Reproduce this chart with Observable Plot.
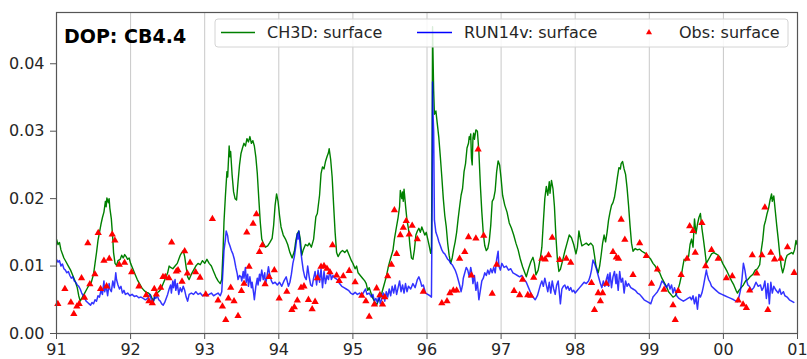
<!DOCTYPE html>
<html>
<head>
<meta charset="utf-8">
<script src="https://cdn.jsdelivr.net/npm/d3@7"></script>
<script src="https://cdn.jsdelivr.net/npm/@observablehq/plot@0.6"></script>
<style>
  html, body { margin: 0; padding: 0; background: #fff; }
  #chart svg { display: block; }
</style>
</head>
<body>
<div id="chart"></div>
<script>
// Station label and legend entries
const stationTitle = "DOP: CB4.4";
const seriesNames = ["CH3D: surface", "RUN14v: surface", "Obs: surface"];

// Year ticks and their two-digit labels
const yearTicks = [1991, 1992, 1993, 1994, 1995, 1996, 1997, 1998, 1999, 2000, 2001];
const yearLabels = ["91", "92", "93", "94", "95", "96", "97", "98", "99", "00", "01"];
const valueTicks = [0, 0.01, 0.02, 0.03, 0.04];

// CH3D model, surface DOP [year, value]
const ch3d = [
  [1991.00,.0140],[1991.02,.0132],[1991.04,.0135],[1991.06,.0124],[1991.08,.0118],[1991.10,.0112],
  [1991.13,.0106],[1991.16,.0100],[1991.19,.0094],[1991.22,.0086],[1991.25,.0078],[1991.28,.0068],
  [1991.30,.0056],[1991.32,.0048],[1991.35,.0054],[1991.38,.0060],[1991.41,.0066],[1991.44,.0072],
  [1991.47,.0076],[1991.50,.0088],[1991.52,.0104],[1991.54,.0120],[1991.56,.0138],[1991.58,.0150],
  [1991.60,.0162],[1991.62,.0172],[1991.64,.0180],[1991.66,.0196],[1991.67,.0188],[1991.68,.0201],
  [1991.70,.0194],[1991.71,.0200],[1991.72,.0186],[1991.74,.0170],[1991.76,.0140],[1991.77,.0120],
  [1991.79,.0104],[1991.81,.0101],[1991.83,.0108],[1991.86,.0110],[1991.88,.0116],[1991.90,.0112],
  [1991.92,.0117],[1991.94,.0114],[1991.96,.0110],[1991.98,.0112],[1992.00,.0104],[1992.03,.0096],
  [1992.06,.0088],[1992.09,.0080],[1992.12,.0074],[1992.15,.0068],[1992.18,.0064],[1992.21,.0061],
  [1992.24,.0060],[1992.27,.0057],[1992.29,.0052],[1992.31,.0048],[1992.33,.0056],[1992.35,.0060],
  [1992.38,.0062],[1992.41,.0066],[1992.44,.0074],[1992.47,.0082],[1992.50,.0090],[1992.52,.0100],
  [1992.54,.0098],[1992.57,.0096],[1992.60,.0100],[1992.63,.0104],[1992.65,.0110],[1992.67,.0116],
  [1992.69,.0120],[1992.71,.0123],[1992.73,.0114],[1992.75,.0098],[1992.77,.0084],[1992.79,.0080],
  [1992.82,.0088],[1992.85,.0094],[1992.88,.0100],[1992.91,.0104],[1992.94,.0102],[1992.97,.0108],
  [1993.00,.0104],[1993.03,.0110],[1993.06,.0104],[1993.09,.0100],[1993.12,.0092],[1993.15,.0084],
  [1993.18,.0078],[1993.21,.0074],[1993.23,.0080],[1993.25,.0130],[1993.26,.0165],[1993.28,.0205],
  [1993.30,.0240],[1993.31,.0232],[1993.33,.0278],[1993.34,.0262],[1993.35,.0270],[1993.37,.0235],
  [1993.39,.0210],[1993.41,.0200],[1993.43,.0198],[1993.45,.0225],[1993.47,.0250],[1993.49,.0267],
  [1993.51,.0275],[1993.53,.0282],[1993.55,.0278],[1993.57,.0289],[1993.59,.0284],[1993.61,.0292],
  [1993.63,.0282],[1993.65,.0286],[1993.67,.0278],[1993.69,.0262],[1993.71,.0237],[1993.73,.0200],
  [1993.75,.0165],[1993.77,.0140],[1993.79,.0134],[1993.82,.0128],[1993.85,.0130],[1993.88,.0135],
  [1993.91,.0141],[1993.93,.0160],[1993.95,.0190],[1993.97,.0207],[1993.99,.0196],[1994.01,.0175],
  [1994.03,.0158],[1994.06,.0146],[1994.09,.0140],[1994.12,.0132],[1994.15,.0120],[1994.18,.0112],
  [1994.21,.0122],[1994.23,.0138],[1994.25,.0148],[1994.27,.0152],[1994.29,.0140],[1994.31,.0116],
  [1994.33,.0124],[1994.36,.0132],[1994.39,.0130],[1994.41,.0134],[1994.44,.0128],[1994.47,.0140],
  [1994.50,.0173],[1994.52,.0178],[1994.55,.0205],[1994.57,.0237],[1994.59,.0247],[1994.61,.0244],
  [1994.63,.0255],[1994.65,.0262],[1994.67,.0268],[1994.68,.0274],[1994.70,.0258],[1994.72,.0232],
  [1994.74,.0190],[1994.76,.0150],[1994.78,.0120],[1994.80,.0114],[1994.83,.0120],[1994.86,.0123],
  [1994.89,.0120],[1994.92,.0124],[1994.95,.0116],[1994.98,.0108],[1995.00,.0104],[1995.03,.0096],
  [1995.05,.0100],[1995.07,.0090],[1995.10,.0086],[1995.13,.0082],[1995.16,.0078],[1995.18,.0074],
  [1995.20,.0064],[1995.22,.0068],[1995.25,.0058],[1995.27,.0052],[1995.30,.0046],[1995.32,.0042],
  [1995.34,.0048],[1995.36,.0052],[1995.39,.0060],[1995.42,.0072],[1995.45,.0084],[1995.48,.0100],
  [1995.51,.0112],[1995.54,.0123],[1995.56,.0140],[1995.58,.0153],[1995.61,.0172],[1995.63,.0188],
  [1995.64,.0212],[1995.66,.0200],[1995.67,.0210],[1995.68,.0196],[1995.69,.0214],[1995.71,.0190],
  [1995.73,.0168],[1995.75,.0155],[1995.77,.0130],[1995.79,.0112],[1995.81,.0110],[1995.83,.0124],
  [1995.85,.0146],[1995.87,.0152],[1995.89,.0156],[1995.91,.0150],[1995.93,.0158],[1995.95,.0152],
  [1995.97,.0146],[1995.99,.0150],[1996.01,.0140],[1996.03,.0130],[1996.05,.0119],[1996.06,.0125],
  [1996.07,.0300],[1996.075,.0455],[1996.08,.0420],[1996.09,.0360],[1996.10,.0325],[1996.12,.0330],
  [1996.14,.0310],[1996.16,.0290],[1996.18,.0262],[1996.20,.0232],[1996.22,.0200],[1996.24,.0175],
  [1996.26,.0158],[1996.28,.0133],[1996.30,.0115],[1996.32,.0104],[1996.34,.0112],[1996.36,.0125],
  [1996.38,.0136],[1996.40,.0150],[1996.42,.0170],[1996.44,.0188],[1996.46,.0205],[1996.48,.0215],
  [1996.50,.0240],[1996.52,.0252],[1996.54,.0275],[1996.56,.0282],[1996.57,.0292],[1996.58,.0288],
  [1996.59,.0296],[1996.60,.0260],[1996.61,.0250],[1996.62,.0290],[1996.63,.0297],[1996.64,.0288],
  [1996.66,.0302],[1996.68,.0300],[1996.70,.0270],[1996.72,.0220],[1996.74,.0180],[1996.76,.0148],
  [1996.78,.0130],[1996.80,.0123],[1996.82,.0126],[1996.84,.0137],[1996.86,.0160],[1996.88,.0196],
  [1996.90,.0200],[1996.92,.0212],[1996.94,.0240],[1996.96,.0256],[1996.98,.0250],[1997.00,.0230],
  [1997.02,.0205],[1997.05,.0190],[1997.08,.0180],[1997.11,.0164],[1997.14,.0156],[1997.17,.0146],
  [1997.20,.0134],[1997.23,.0124],[1997.26,.0110],[1997.29,.0099],[1997.32,.0090],[1997.34,.0084],
  [1997.37,.0096],[1997.40,.0106],[1997.43,.0113],[1997.45,.0104],[1997.47,.0087],[1997.50,.0094],
  [1997.53,.0112],[1997.55,.0128],[1997.57,.0165],[1997.59,.0200],[1997.61,.0218],[1997.63,.0205],
  [1997.65,.0225],[1997.66,.0208],[1997.68,.0227],[1997.70,.0215],[1997.72,.0188],[1997.74,.0143],
  [1997.76,.0110],[1997.78,.0092],[1997.80,.0095],[1997.83,.0108],[1997.86,.0122],[1997.89,.0134],
  [1997.92,.0146],[1997.95,.0142],[1997.98,.0132],[1998.01,.0118],[1998.03,.0128],[1998.05,.0152],
  [1998.07,.0140],[1998.09,.0130],[1998.12,.0132],[1998.15,.0134],[1998.18,.0131],[1998.21,.0134],
  [1998.24,.0130],[1998.26,.0116],[1998.28,.0100],[1998.31,.0090],[1998.33,.0100],[1998.35,.0116],
  [1998.37,.0134],[1998.39,.0146],[1998.41,.0136],[1998.43,.0150],[1998.45,.0168],[1998.47,.0180],
  [1998.49,.0190],[1998.51,.0194],[1998.53,.0202],[1998.55,.0216],[1998.57,.0232],[1998.59,.0246],
  [1998.61,.0244],[1998.62,.0252],[1998.64,.0255],[1998.66,.0244],[1998.68,.0236],[1998.70,.0216],
  [1998.72,.0190],[1998.74,.0160],[1998.76,.0134],[1998.78,.0122],[1998.81,.0126],[1998.84,.0124],
  [1998.87,.0125],[1998.90,.0122],[1998.93,.0120],[1998.96,.0118],[1998.99,.0114],[1999.02,.0110],
  [1999.05,.0104],[1999.08,.0100],[1999.11,.0094],[1999.14,.0090],[1999.17,.0082],[1999.20,.0076],
  [1999.23,.0070],[1999.26,.0062],[1999.29,.0058],[1999.32,.0054],[1999.35,.0056],[1999.38,.0062],
  [1999.41,.0074],[1999.43,.0084],[1999.45,.0098],[1999.47,.0110],[1999.49,.0108],[1999.51,.0112],
  [1999.53,.0114],[1999.55,.0132],[1999.57,.0140],[1999.59,.0128],[1999.61,.0170],[1999.63,.0148],
  [1999.65,.0162],[1999.67,.0172],[1999.69,.0178],[1999.71,.0156],[1999.73,.0140],[1999.75,.0123],
  [1999.77,.0104],[1999.79,.0108],[1999.81,.0112],[1999.84,.0118],[1999.87,.0120],[1999.90,.0118],
  [1999.93,.0116],[1999.96,.0112],[1999.99,.0104],[2000.02,.0098],[2000.05,.0092],[2000.08,.0085],
  [2000.11,.0078],[2000.14,.0072],[2000.17,.0064],[2000.19,.0060],[2000.21,.0064],[2000.24,.0068],
  [2000.27,.0072],[2000.30,.0078],[2000.33,.0080],[2000.36,.0084],[2000.40,.0088],[2000.43,.0094],
  [2000.46,.0096],[2000.49,.0102],[2000.51,.0123],[2000.53,.0138],[2000.55,.0160],[2000.57,.0168],
  [2000.59,.0178],[2000.61,.0186],[2000.63,.0198],[2000.65,.0207],[2000.66,.0196],[2000.68,.0204],
  [2000.70,.0182],[2000.72,.0160],[2000.74,.0140],[2000.76,.0118],[2000.78,.0100],[2000.80,.0090],
  [2000.82,.0098],[2000.84,.0110],[2000.86,.0116],[2000.89,.0118],[2000.92,.0120],[2000.94,.0118],
  [2000.96,.0124],[2000.98,.0138],[2000.995,.0132]
];

// RUN14v model, surface DOP [year, value]
const run14v = [
  [1991.00,.0110],[1991.02,.0106],[1991.04,.0108],[1991.06,.0100],[1991.08,.0103],[1991.10,.0096],
  [1991.12,.0094],[1991.14,.0090],[1991.16,.0092],[1991.18,.0086],[1991.20,.0082],[1991.22,.0084],
  [1991.24,.0078],[1991.26,.0076],[1991.28,.0072],[1991.30,.0070],[1991.32,.0066],[1991.34,.0060],
  [1991.36,.0056],[1991.38,.0052],[1991.40,.0048],[1991.42,.0046],[1991.44,.0044],[1991.46,.0042],
  [1991.48,.0046],[1991.50,.0044],[1991.52,.0050],[1991.54,.0048],[1991.56,.0056],[1991.58,.0054],
  [1991.60,.0064],[1991.62,.0058],[1991.64,.0078],[1991.65,.0062],[1991.67,.0070],[1991.69,.0056],
  [1991.71,.0074],[1991.72,.0066],[1991.74,.0062],[1991.76,.0078],[1991.78,.0068],[1991.80,.0090],
  [1991.81,.0080],[1991.83,.0072],[1991.85,.0066],[1991.87,.0070],[1991.89,.0060],[1991.91,.0064],
  [1991.93,.0058],[1991.96,.0060],[1991.99,.0056],[1992.02,.0058],[1992.05,.0055],[1992.08,.0056],
  [1992.11,.0053],[1992.14,.0054],[1992.17,.0052],[1992.20,.0050],[1992.23,.0052],[1992.26,.0058],
  [1992.28,.0050],[1992.30,.0044],[1992.32,.0054],[1992.34,.0052],[1992.36,.0056],[1992.38,.0050],
  [1992.40,.0048],[1992.42,.0044],[1992.44,.0042],[1992.46,.0046],[1992.48,.0052],[1992.50,.0058],
  [1992.52,.0066],[1992.54,.0072],[1992.55,.0060],[1992.57,.0078],[1992.58,.0068],[1992.60,.0080],
  [1992.61,.0064],[1992.63,.0074],[1992.65,.0058],[1992.67,.0068],[1992.69,.0062],[1992.71,.0070],
  [1992.73,.0064],[1992.75,.0054],[1992.77,.0048],[1992.79,.0058],[1992.82,.0060],[1992.85,.0058],
  [1992.88,.0062],[1992.91,.0058],[1992.94,.0060],[1992.97,.0056],[1993.00,.0058],[1993.03,.0056],
  [1993.06,.0058],[1993.09,.0060],[1993.12,.0056],[1993.15,.0058],[1993.18,.0060],[1993.21,.0056],
  [1993.23,.0062],[1993.25,.0100],[1993.26,.0123],[1993.28,.0140],[1993.29,.0152],[1993.31,.0145],
  [1993.32,.0136],[1993.34,.0130],[1993.36,.0123],[1993.38,.0118],[1993.40,.0110],[1993.42,.0098],
  [1993.44,.0088],[1993.45,.0080],[1993.47,.0086],[1993.49,.0084],[1993.50,.0078],[1993.52,.0092],
  [1993.53,.0082],[1993.55,.0098],[1993.56,.0076],[1993.58,.0088],[1993.59,.0070],[1993.61,.0084],
  [1993.63,.0068],[1993.64,.0076],[1993.66,.0060],[1993.67,.0050],[1993.69,.0070],[1993.71,.0082],
  [1993.72,.0072],[1993.74,.0088],[1993.75,.0078],[1993.77,.0094],[1993.79,.0080],[1993.81,.0090],
  [1993.82,.0072],[1993.84,.0084],[1993.86,.0099],[1993.88,.0086],[1993.90,.0078],[1993.92,.0074],
  [1993.95,.0076],[1993.98,.0072],[1994.01,.0076],[1994.04,.0070],[1994.07,.0078],[1994.10,.0084],
  [1994.13,.0070],[1994.15,.0076],[1994.17,.0088],[1994.19,.0104],[1994.21,.0114],[1994.23,.0130],
  [1994.25,.0148],[1994.26,.0140],[1994.27,.0152],[1994.29,.0130],[1994.31,.0110],[1994.33,.0094],
  [1994.35,.0084],[1994.37,.0080],[1994.39,.0100],[1994.41,.0084],[1994.43,.0072],[1994.45,.0070],
  [1994.47,.0082],[1994.49,.0092],[1994.51,.0072],[1994.53,.0094],[1994.55,.0076],[1994.57,.0096],
  [1994.59,.0068],[1994.61,.0092],[1994.63,.0074],[1994.65,.0086],[1994.67,.0080],[1994.69,.0094],
  [1994.71,.0080],[1994.73,.0086],[1994.76,.0082],[1994.79,.0080],[1994.82,.0074],[1994.85,.0070],
  [1994.88,.0068],[1994.91,.0066],[1994.94,.0064],[1994.97,.0060],[1995.00,.0058],[1995.03,.0061],
  [1995.06,.0058],[1995.09,.0060],[1995.12,.0056],[1995.15,.0062],[1995.17,.0066],[1995.19,.0058],
  [1995.22,.0060],[1995.25,.0054],[1995.27,.0058],[1995.29,.0048],[1995.31,.0052],[1995.33,.0046],
  [1995.35,.0056],[1995.37,.0044],[1995.39,.0052],[1995.41,.0060],[1995.43,.0048],[1995.45,.0062],
  [1995.47,.0054],[1995.49,.0066],[1995.51,.0056],[1995.53,.0070],[1995.55,.0060],[1995.57,.0072],
  [1995.59,.0058],[1995.61,.0068],[1995.63,.0078],[1995.65,.0062],[1995.67,.0072],[1995.69,.0060],
  [1995.71,.0074],[1995.73,.0062],[1995.75,.0070],[1995.78,.0066],[1995.81,.0074],[1995.84,.0068],
  [1995.87,.0080],[1995.89,.0084],[1995.91,.0078],[1995.93,.0070],[1995.95,.0072],[1995.98,.0060],
  [1996.01,.0058],[1996.04,.0056],[1996.06,.0054],[1996.07,.0200],[1996.075,.0373],[1996.08,.0330],
  [1996.09,.0300],[1996.10,.0168],[1996.12,.0150],[1996.14,.0144],[1996.16,.0136],[1996.18,.0130],
  [1996.20,.0124],[1996.22,.0120],[1996.24,.0118],[1996.26,.0114],[1996.28,.0110],[1996.30,.0108],
  [1996.32,.0104],[1996.34,.0102],[1996.36,.0098],[1996.38,.0094],[1996.40,.0088],[1996.42,.0080],
  [1996.44,.0072],[1996.46,.0062],[1996.48,.0072],[1996.49,.0082],[1996.51,.0090],[1996.53,.0098],
  [1996.55,.0094],[1996.57,.0084],[1996.59,.0098],[1996.61,.0086],[1996.62,.0074],[1996.64,.0086],
  [1996.66,.0064],[1996.68,.0076],[1996.70,.0050],[1996.72,.0064],[1996.74,.0078],[1996.76,.0082],
  [1996.78,.0090],[1996.80,.0086],[1996.82,.0094],[1996.84,.0088],[1996.86,.0096],[1996.88,.0090],
  [1996.90,.0098],[1996.92,.0090],[1996.94,.0110],[1996.96,.0122],[1996.97,.0100],[1996.99,.0094],
  [1997.01,.0104],[1997.04,.0098],[1997.07,.0100],[1997.10,.0094],[1997.13,.0096],[1997.16,.0090],
  [1997.19,.0088],[1997.22,.0086],[1997.25,.0084],[1997.28,.0086],[1997.31,.0080],[1997.34,.0076],
  [1997.37,.0068],[1997.40,.0060],[1997.43,.0054],[1997.46,.0050],[1997.49,.0056],[1997.51,.0064],
  [1997.53,.0072],[1997.55,.0078],[1997.57,.0070],[1997.59,.0082],[1997.61,.0072],[1997.63,.0062],
  [1997.65,.0076],[1997.67,.0060],[1997.69,.0078],[1997.71,.0066],[1997.73,.0058],[1997.75,.0072],
  [1997.77,.0078],[1997.79,.0056],[1997.80,.0044],[1997.82,.0066],[1997.84,.0070],[1997.86,.0072],
  [1997.88,.0066],[1997.90,.0070],[1997.92,.0064],[1997.94,.0068],[1997.96,.0062],[1997.98,.0064],
  [1998.00,.0060],[1998.03,.0064],[1998.06,.0068],[1998.09,.0072],[1998.12,.0076],[1998.15,.0074],
  [1998.18,.0078],[1998.20,.0084],[1998.22,.0094],[1998.24,.0109],[1998.26,.0104],[1998.28,.0098],
  [1998.30,.0090],[1998.32,.0082],[1998.34,.0074],[1998.36,.0068],[1998.38,.0078],[1998.40,.0070],
  [1998.42,.0080],[1998.44,.0088],[1998.45,.0070],[1998.47,.0090],[1998.49,.0068],[1998.51,.0084],
  [1998.53,.0092],[1998.55,.0074],[1998.56,.0088],[1998.58,.0064],[1998.60,.0092],[1998.62,.0076],
  [1998.64,.0082],[1998.66,.0060],[1998.68,.0078],[1998.70,.0070],[1998.72,.0074],[1998.75,.0068],
  [1998.78,.0066],[1998.81,.0064],[1998.84,.0060],[1998.87,.0058],[1998.90,.0054],[1998.93,.0050],
  [1998.96,.0048],[1998.99,.0046],[1999.02,.0044],[1999.05,.0054],[1999.08,.0058],[1999.11,.0062],
  [1999.14,.0068],[1999.17,.0078],[1999.20,.0074],[1999.23,.0068],[1999.26,.0074],[1999.28,.0066],
  [1999.30,.0072],[1999.32,.0060],[1999.34,.0068],[1999.37,.0056],[1999.40,.0052],[1999.43,.0050],
  [1999.46,.0048],[1999.49,.0050],[1999.52,.0052],[1999.55,.0054],[1999.57,.0050],[1999.59,.0056],
  [1999.61,.0044],[1999.63,.0054],[1999.65,.0036],[1999.67,.0058],[1999.69,.0054],[1999.71,.0060],
  [1999.73,.0070],[1999.75,.0082],[1999.77,.0094],[1999.78,.0088],[1999.80,.0080],[1999.82,.0076],
  [1999.84,.0070],[1999.86,.0068],[1999.90,.0064],[1999.94,.0060],[1999.98,.0058],[2000.02,.0056],
  [2000.06,.0054],[2000.10,.0052],[2000.14,.0050],[2000.17,.0048],[2000.19,.0047],[2000.21,.0054],
  [2000.23,.0064],[2000.25,.0080],[2000.27,.0104],[2000.29,.0094],[2000.31,.0080],[2000.33,.0072],
  [2000.35,.0070],[2000.38,.0064],[2000.41,.0068],[2000.44,.0076],[2000.47,.0070],[2000.50,.0072],
  [2000.52,.0064],[2000.54,.0068],[2000.56,.0078],[2000.58,.0052],[2000.60,.0074],[2000.62,.0044],
  [2000.64,.0076],[2000.66,.0060],[2000.68,.0070],[2000.71,.0064],[2000.74,.0060],[2000.76,.0066],
  [2000.78,.0058],[2000.81,.0062],[2000.83,.0056],[2000.86,.0054],[2000.89,.0050],[2000.92,.0048],
  [2000.95,.0046]
];

// Observed surface DOP samples [year, value]
const observed = [
  [1991.018,.0044],[1991.113,.0066],[1991.194,.0046],[1991.234,.0029],[1991.275,.0040],[1991.306,.0044],
  [1991.338,.0082],[1991.378,.0053],[1991.423,.0134],[1991.450,.0073],[1991.518,.0088],[1991.563,.0149],
  [1991.595,.0066],[1991.640,.0108],[1991.676,.0070],[1991.712,.0111],[1991.752,.0147],[1991.788,.0138],
  [1991.847,.0102],[1991.919,.0105],[1992.014,.0091],[1992.112,.0070],[1992.212,.0057],[1992.247,.0048],
  [1992.293,.0045],[1992.320,.0066],[1992.347,.0058],[1992.405,.0068],[1992.437,.0084],[1992.468,.0084],
  [1992.518,.0082],[1992.554,.0135],[1992.617,.0092],[1992.640,.0094],[1992.694,.0077],[1992.730,.0122],
  [1992.766,.0089],[1992.802,.0105],[1992.878,.0091],[1992.937,.0083],[1993.014,.0058],[1993.104,.0170],
  [1993.180,.0049],[1993.239,.0040],[1993.284,.0020],[1993.320,.0052],[1993.351,.0068],[1993.396,.0048],
  [1993.450,.0026],[1993.496,.0063],[1993.531,.0074],[1993.568,.0150],[1993.599,.0099],[1993.653,.0163],
  [1993.698,.0177],[1993.739,.0121],[1993.779,.0131],[1993.815,.0073],[1993.869,.0084],[1993.940,.0094],
  [1994.005,.0052],[1994.108,.0062],[1994.176,.0035],[1994.210,.0039],[1994.250,.0049],[1994.300,.0068],
  [1994.340,.0070],[1994.400,.0050],[1994.450,.0036],[1994.490,.0047],[1994.520,.0082],[1994.570,.0099],
  [1994.610,.0100],[1994.650,.0096],[1994.690,.0091],[1994.725,.0131],[1994.780,.0086],[1994.815,.0078],
  [1994.870,.0085],[1994.950,.0093],[1995.030,.0076],[1995.120,.0056],[1995.175,.0048],[1995.220,.0025],
  [1995.290,.0043],[1995.320,.0067],[1995.365,.0057],[1995.400,.0043],[1995.430,.0054],[1995.470,.0085],
  [1995.520,.0102],[1995.560,.0183],[1995.590,.0118],[1995.640,.0146],[1995.680,.0157],[1995.720,.0167],
  [1995.760,.0147],[1995.800,.0160],[1995.870,.0140],[1995.950,.0062],[1996.200,.0045],[1996.270,.0048],
  [1996.310,.0060],[1996.355,.0064],[1996.400,.0064],[1996.440,.0111],[1996.510,.0121],[1996.560,.0143],
  [1996.600,.0086],[1996.660,.0141],[1996.690,.0273],[1996.765,.0145],[1996.880,.0059],[1996.940,.0102],
  [1997.175,.0063],[1997.250,.0057],[1997.290,.0080],[1997.360,.0057],[1997.400,.0056],[1997.440,.0083],
  [1997.550,.0111],[1997.595,.0110],[1997.640,.0116],[1997.690,.0142],[1997.790,.0109],[1997.880,.0111],
  [1997.940,.0105],[1998.220,.0075],[1998.260,.0035],[1998.310,.0060],[1998.340,.0048],[1998.370,.0060],
  [1998.420,.0074],[1998.510,.0121],[1998.555,.0113],[1998.585,.0111],[1998.620,.0169],[1998.670,.0139],
  [1998.780,.0087],[1998.870,.0134],[1998.960,.0115],[1999.030,.0074],[1999.110,.0095],[1999.200,.0065],
  [1999.320,.0042],[1999.350,.0020],[1999.390,.0063],[1999.430,.0087],[1999.510,.0111],[1999.545,.0159],
  [1999.590,.0152],[1999.620,.0120],[1999.710,.0164],[1999.760,.0100],[1999.840,.0124],[1999.930,.0111],
  [2000.040,.0082],[2000.120,.0085],[2000.200,.0049],[2000.265,.0043],[2000.310,.0038],[2000.355,.0064],
  [2000.390,.0116],[2000.450,.0089],[2000.520,.0116],[2000.560,.0187],[2000.600,.0035],[2000.640,.0120],
  [2000.690,.0110],[2000.775,.0111],[2000.865,.0128],[2000.955,.0090]
];

const seriesColors = ["green", "blue", "red"];

const chart = Plot.plot({
  width: 807,
  height: 359,
  marginLeft: 56,
  marginRight: 10,
  marginTop: 12,
  marginBottom: 26,
  style: {fontFamily: "DejaVu Sans", fontSize: "16px", color: "#262626", background: "#fff"},
  x: {type: "linear", domain: [1991, 2001]},
  y: {domain: [0, 0.0476]},
  marks: [
    Plot.ruleX(yearTicks, {stroke: "#c8c8c8", strokeWidth: 1}),
    Plot.line(ch3d, {x: d => d[0], y: d => d[1], stroke: seriesColors[0], strokeWidth: 1.4, clip: true}),
    Plot.line(run14v, {x: d => d[0], y: d => d[1], stroke: seriesColors[1], strokeWidth: 1.5, strokeOpacity: 0.8, clip: true}),
    Plot.dot(observed, {x: d => d[0], y: d => d[1], symbol: "triangle", r: 2.7, fill: seriesColors[2], stroke: "none"}),
    Plot.frame({stroke: "#555", strokeWidth: 1.2}),
    Plot.axisY({ticks: valueTicks, tickFormat: d3.format(".2f"), tickSize: 6, tickPadding: 6, label: null, stroke: "#555"}),
    Plot.axisX({ticks: yearTicks, tickFormat: (d, i) => yearLabels[i], tickSize: 6, tickPadding: 4, label: null, stroke: "#555"})
  ]
});

document.getElementById("chart").appendChild(chart);

// Station label and legend box drawn inside the plot frame
const svg = d3.select(chart);
const frameLeft = 56, frameTop = 12, frameRight = 807 - 10;

svg.append("text")
  .attr("x", frameLeft + 8)
  .attr("y", frameTop + 31)
  .attr("text-anchor", "start")
  .attr("font-family", "DejaVu Sans")
  .attr("font-size", 19)
  .attr("font-weight", "bold")
  .attr("fill", "#000")
  .text(stationTitle);

const legend = svg.append("g")
  .attr("text-anchor", "start")
  .attr("font-family", "DejaVu Sans")
  .attr("font-size", 16)
  .attr("fill", "#262626");
const boxLeft = 215, boxTop = frameTop + 7, boxRight = frameRight - 9, boxHeight = 28;
legend.append("rect")
  .attr("x", boxLeft).attr("y", boxTop)
  .attr("width", boxRight - boxLeft).attr("height", boxHeight)
  .attr("rx", 3)
  .attr("fill", "#fff").attr("fill-opacity", 0.85)
  .attr("stroke", "#d4d4d4");

const midY = boxTop + 13.5;
const entries = [
  {kind: "line", x0: 221, x1: 255, tx: 267},
  {kind: "line", x0: 417, x1: 452, tx: 464},
  {kind: "tri", x0: 649, tx: 679}
];
entries.forEach((e, i) => {
  if (e.kind === "line") {
    legend.append("line")
      .attr("x1", e.x0).attr("x2", e.x1).attr("y1", midY).attr("y2", midY)
      .attr("stroke", seriesColors[i]).attr("stroke-width", 1.3);
  } else {
    legend.append("path")
      .attr("transform", `translate(${e.x0},${midY})`)
      .attr("d", d3.symbol(d3.symbolTriangle, 16)())
      .attr("fill", seriesColors[i]);
  }
  legend.append("text")
    .attr("x", e.tx).attr("y", midY + 5.7)
    .text(seriesNames[i]);
});
</script>
</body>
</html>
